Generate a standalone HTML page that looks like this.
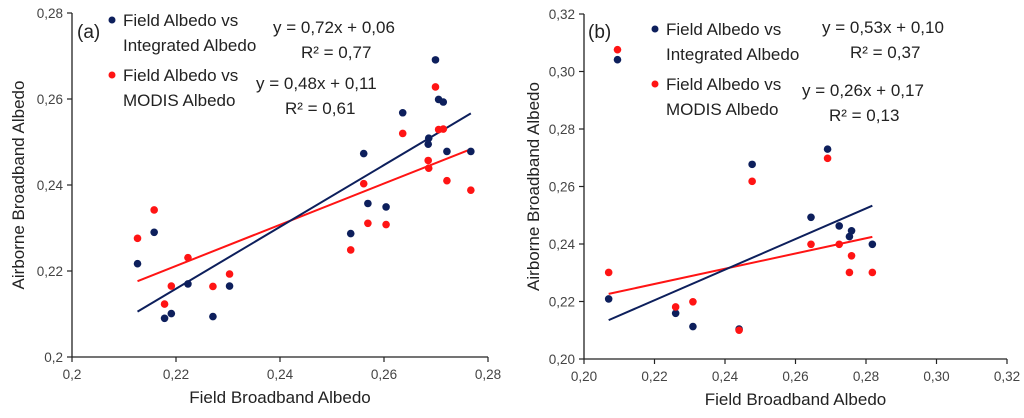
<!DOCTYPE html>
<html><head><meta charset="utf-8">
<style>
html,body{margin:0;padding:0;background:#fff;}
svg{display:block;font-family:"Liberation Sans",sans-serif;}
</style></head>
<body>
<svg id="c" width="1024" height="418" viewBox="0 0 1024 418" xmlns="http://www.w3.org/2000/svg"></svg>
<script>
// Panel (a)
const aFieldX = [0.2126,0.2158,0.2178,0.2191,0.2223,0.2271,0.2303,0.2536,0.2561,0.2569,0.2604,0.2636,0.2686,0.2685,0.2699,0.2705,0.2714,0.2721,0.2767];
const aIntegrated = [0.2217,0.2290,0.2090,0.2101,0.2170,0.2094,0.2165,0.2287,0.2473,0.2357,0.2349,0.2568,0.2509,0.2495,0.2691,0.2599,0.2593,0.2478,0.2478];
const aModis = [0.2276,0.2342,0.2123,0.2165,0.2231,0.2164,0.2193,0.2249,0.2403,0.2311,0.2308,0.2520,0.2439,0.2457,0.2628,0.2529,0.2530,0.2410,0.2388];
const aTrendIntegrated = [0.719,0.0577]; // slope, intercept
const aTrendModis = [0.479,0.1158];
const aXTicks = ["0,2","0,22","0,24","0,26","0,28"];
const aYTicks = ["0,2","0,22","0,24","0,26","0,28"];
// Panel (b)
const bFieldX = [0.2070,0.2095,0.2260,0.2309,0.2440,0.2477,0.2644,0.2691,0.2724,0.2753,0.2759,0.2818];
const bIntegrated = [0.2209,0.3041,0.2159,0.2113,0.2104,0.2677,0.2493,0.2730,0.2463,0.2426,0.2446,0.2399];
const bModis = [0.2301,0.3076,0.2181,0.2199,0.2100,0.2618,0.2399,0.2698,0.2399,0.2301,0.2359,0.2301];
const bTrendIntegrated = [0.532,0.1034];
const bTrendModis = [0.265,0.1678];
const bXTicks = ["0,20","0,22","0,24","0,26","0,28","0,30","0,32"];
const bYTicks = ["0,20","0,22","0,24","0,26","0,28","0,30","0,32"];

const NS="http://www.w3.org/2000/svg";
const svg=document.getElementById('c');
const BLUE="#0d1f5c", RED="#ff1414";
function mk(tag,attrs,parent){const e=document.createElementNS(NS,tag);for(const k in attrs)e.setAttribute(k,attrs[k]);(parent||svg).appendChild(e);return e;}
function txt(s,x,y,size,anchor,parent){const t=mk('text',{x:x,y:y,'font-size':size,'text-anchor':anchor||'start',fill:'#222'},parent);t.textContent=s;return t;}

function panel(p){
  const g=mk('g',{});
  
  
  const xs=v=>p.x0+(v-p.xmin)/(p.xmax-p.xmin)*(p.x1-p.x0);
  const ys=v=>p.y0-(v-p.ymin)/(p.ymax-p.ymin)*(p.y0-p.y1);
  const ax=mk('line',{x1:p.x0,y1:p.y0,x2:p.x1,y2:p.y0,stroke:'#222','stroke-width':1.3},g);
  
  const ay=mk('line',{x1:p.x0,y1:p.y0,x2:p.x0,y2:p.y1,stroke:'#222','stroke-width':1.3},g);
  
  p.xt.forEach((s,i)=>{const v=p.xmin+i*(p.xmax-p.xmin)/(p.xt.length-1);const X=xs(v);
    mk('line',{x1:X,y1:p.y0,x2:X,y2:p.y0+5,stroke:'#222','stroke-width':1.2},g);
    const t=txt(s,X,p.y0+22,13.5,'middle',g);t.setAttribute('fill','#444');
    });
  p.yt.forEach((s,i)=>{const v=p.ymin+i*(p.ymax-p.ymin)/(p.yt.length-1);const Y=ys(v);
    mk('line',{x1:p.x0-5,y1:Y,x2:p.x0,y2:Y,stroke:'#222','stroke-width':1.2},g);
    const t=txt(s,p.x0-9,Y+5,13.5,'end',g);t.setAttribute('fill','#444');
    });
  const xt=txt('Field Broadband Albedo',(p.x0+p.x1)/2,p.y0+46,17,'middle',g);
  
  const yt=txt('Airborne Broadband Albedo',0,0,17,'middle',g);
  yt.setAttribute('transform','translate('+p.ytx+','+((p.y0+p.y1)/2)+') rotate(-90)');
  
  const a=Math.min(...p.fx),b=Math.max(...p.fx);
  [[p.tm,RED,'modis-trendline'],[p.ti,BLUE,'integrated-trendline']].forEach(([f,col,nm])=>{
    const l=mk('line',{x1:xs(a),y1:ys(f[0]*a+f[1]),x2:xs(b),y2:ys(f[0]*b+f[1]),stroke:col,'stroke-width':2},g);
    });
  p.fx.forEach((v,i)=>{const c=mk('circle',{cx:xs(v),cy:ys(p.integ[i]),r:3.8,fill:BLUE},g);
    });
  p.fx.forEach((v,i)=>{const c=mk('circle',{cx:xs(v),cy:ys(p.modis[i]),r:3.8,fill:RED},g);
    });
  const pl=txt(p.label,p.lx,p.ly,19,'start',g);
  const d1=mk('circle',{cx:p.legX,cy:p.legY,r:3.5,fill:BLUE},g);
  const d2=mk('circle',{cx:p.legX,cy:p.legY+55,r:3.5,fill:RED},g);
  [['Field Albedo vs',0],['Integrated Albedo',25],['Field Albedo vs',55],['MODIS Albedo',80]].forEach(([s,dy])=>{
    const t=txt(s,p.legX+11,p.legY+6+dy,17,'start',g);});
  p.eqs.forEach(e=>{const t=txt(e[0],e[1],e[2],17,'start',g);});
}

panel({name:'panel-a',x0:72,x1:488,y0:357,y1:13,xmin:0.2,xmax:0.28,ymin:0.2,ymax:0.28,xt:aXTicks,yt:aYTicks,ytx:24,
  fx:aFieldX,integ:aIntegrated,modis:aModis,ti:aTrendIntegrated,tm:aTrendModis,label:'(a)',lx:77,ly:38,legX:112,legY:20,
  eqs:[['y = 0,72x + 0,06',273,33],['R² = 0,77',301,58],['y = 0,48x + 0,11',256,89],['R² = 0,61',285,114]]});
panel({name:'panel-b',x0:584,x1:1007,y0:359,y1:14,xmin:0.2,xmax:0.32,ymin:0.2,ymax:0.32,xt:bXTicks,yt:bYTicks,ytx:539,
  fx:bFieldX,integ:bIntegrated,modis:bModis,ti:bTrendIntegrated,tm:bTrendModis,label:'(b)',lx:588,ly:38,legX:655,legY:29,
  eqs:[['y = 0,53x + 0,10',822,33],['R² = 0,37',850,58],['y = 0,26x + 0,17',802,96],['R² = 0,13',829,121]]});
</script>
</body></html>
